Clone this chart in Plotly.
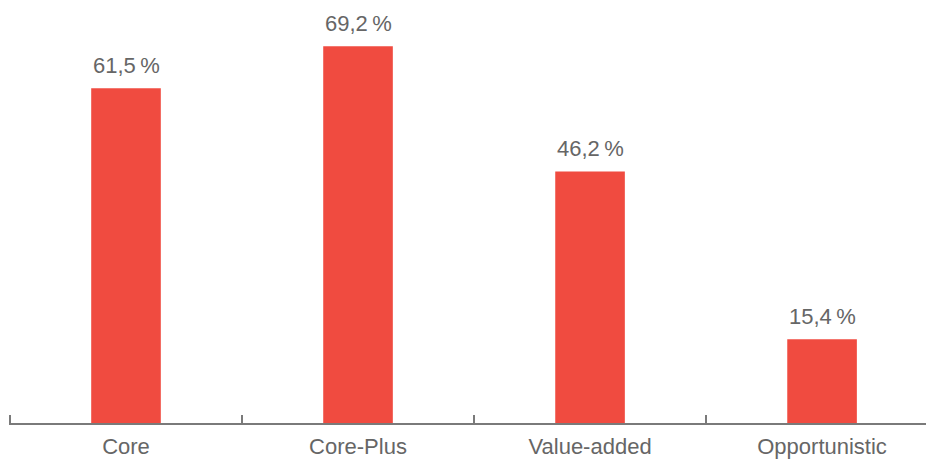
import plotly.graph_objects as go

categories = ["Core", "Core-Plus", "Value-added", "Opportunistic"]
values = [61.5, 69.2, 46.2, 15.4]
value_labels = ["61,5\u2009%", "69,2\u2009%", "46,2\u2009%", "15,4\u2009%"]

bar_color = "#F04B40"
text_color = "#666666"
axis_color = "#7a7a7a"
font_family = "Liberation Sans, Arial, sans-serif"

fig = go.Figure(
    go.Bar(
        x=categories,
        y=values,
        width=0.3,
        marker=dict(color=bar_color, line=dict(width=0)),
        hoverinfo="skip",
    )
)

for cat, val, lab in zip(categories, values, value_labels):
    fig.add_annotation(
        x=cat, y=val, text=lab, showarrow=False,
        xanchor="center", yanchor="bottom", yshift=8,
        font=dict(family=font_family, size=22, color=text_color),
    )

# tick mark on the left boundary of the first category
fig.add_shape(
    type="line", xref="x", yref="y",
    x0=-0.5, x1=-0.5, y0=0, y1=1.45,
    line=dict(color=axis_color, width=2),
)

fig.update_layout(
    width=926, height=461,
    margin=dict(l=9, r=0, t=0, b=38, autoexpand=False),
    plot_bgcolor="white", paper_bgcolor="white",
    showlegend=False,
    bargap=0.7,
    font=dict(family=font_family, size=22, color=text_color),
)
fig.update_xaxes(
    type="category",
    range=[-0.5043, 3.448],
    automargin=False,
    showline=True, linecolor=axis_color, linewidth=2,
    ticks="inside", tickson="boundaries", ticklen=8,
    tickcolor=axis_color, tickwidth=2,
    showgrid=False, zeroline=False,
    tickfont=dict(family=font_family, size=22, color=text_color),
    ticklabelstandoff=3,
)
fig.update_yaxes(
    range=[0, 77.7],
    visible=False, showgrid=False, zeroline=False,
)

fig.write_html("out.html")
